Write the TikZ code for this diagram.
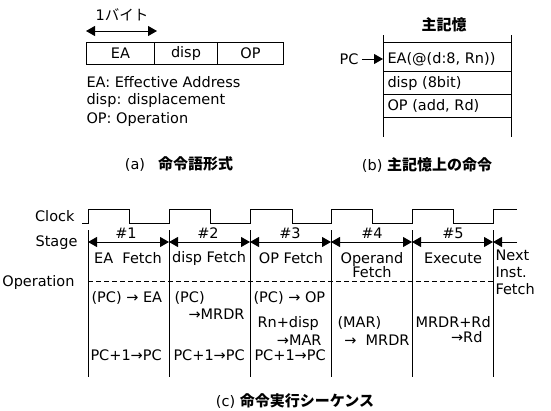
\documentclass[tikz,border=0pt]{standalone}
\usepackage{fontspec}
\setmainfont{DejaVu Sans}
\newfontfamily\jp{Noto Sans CJK JP}
\usetikzlibrary{arrows.meta}
\begin{document}
\begin{tikzpicture}[x=1pt,y=-1pt,
  font=\fontsize{14.5}{17}\selectfont,
  line width=1pt,
  tri/.tip={Triangle[length=9pt,width=10pt]},
  onetip/.style={-tri},
  twotip/.style={tri-tri},
  cell/.style={draw, minimum height=22pt, anchor=north west, inner sep=0pt},
  txt/.style={inner sep=0pt},
  lw/.style={txt, anchor=west},
  le/.style={txt, anchor=east},
  jpb/.style={font=\fontsize{15}{17}\jp\bfseries},
  grid/.style={line width=0.8pt}
]
\useasboundingbox (0,0) rectangle (551,410);

% ---------- (a) instruction word format
\node[cell, minimum width=68pt] (ea) at (86,42) {EA};
\node[cell, minimum width=63pt] (disp) at (154,42) {disp};
\node[cell, minimum width=66pt] (op) at (217,42) {OP};
\coordinate (b1) at (86,31);
\coordinate (b2) at (157,31);
\draw[twotip] (b1) -- (b2);
\node[txt] (byte) at (122,15) {1\jp バイト};
\node[lw] (l1) at (86,82) {EA: Effective Address};
\node[lw] (l2) at (86,100) {disp: displacement};
\node[lw] (l3) at (86,119) {OP: Operation};
\node[txt] (capa) at (179,164) {(a)\hspace{0.9em}{\fontsize{15}{17}\jp\bfseries 命令語形式}};

% ---------- (b) instruction in main memory
\node[txt, jpb] (mem) at (444,25) {主記憶};
\coordinate (mtl) at (383,35);
\coordinate (mbl) at (383,137);
\coordinate (mtr) at (511,35);
\coordinate (mbr) at (511,137);
\draw[grid] (mtl) -- (mbl);
\draw[grid] (mtr) -- (mbr);
\foreach \yy in {42,71,94,117} \draw[grid] (383,\yy) -- (511,\yy);
\node[lw] (m1) at (387,59) {EA(@(d:8, Rn))};
\node[lw] (m2) at (387,83) {disp (8bit)};
\node[lw] (m3) at (387,106) {OP (add, Rd)};
\node[txt] (pc) at (349,59) {PC};
\coordinate (pcend) at (383,59);
\draw[onetip] (pc.east) ++(3,0) -- (pcend);
\node[txt] (capb) at (427,165) {(b) {\fontsize{15}{17}\jp\bfseries 主記憶上の命令}};

% ---------- (c) execution sequence
\node[le] (clk) at (75,216) {Clock};
\node[le] (stg) at (78,243) {Stage};
\node[le] (opl) at (75,282) {Operation};

\coordinate (c0) at (82,223);
\draw (c0) -- (88,223) -- (88,209) -- (129,209) -- (129,223) -- (169,223) -- (169,209)
  -- (210,209) -- (210,223) -- (250,223) -- (250,209) -- (292,209) -- (292,223)
  -- (331,223) -- (331,209) -- (372,209) -- (372,223) -- (412,223) -- (412,209)
  -- (453,209) -- (453,223) -- (493,223) -- (493,209) -- (517,209);

\foreach \i/\xx in {1/88,2/169,3/250,4/331,5/412,6/493} {
  \coordinate (t\i) at (\xx,230);
  \coordinate (b\i) at (\xx,377);
  \coordinate (s\i) at (\xx,242);
  \draw[grid] (t\i) -- (b\i);
}
\coordinate (send) at (517,242);
\draw[twotip] (s1) -- (s2);
\draw[twotip] (s2) -- (s3);
\draw[twotip] (s3) -- (s4);
\draw[twotip] (s4) -- (s5);
\draw[twotip] (s5) -- (s6);
\draw[onetip] (send) -- (s6);

\node[txt] (n1) at (126,233) {\#1};
\node[txt] (n2) at (208,233) {\#2};
\node[txt] (n3) at (290,233) {\#3};
\node[txt] (n4) at (372,233) {\#4};
\node[txt] (n5) at (453,233) {\#5};

\node[txt] (st1) at (128,258) {EA\ \ Fetch};
\node[txt] (st2) at (209,258) {disp Fetch};
\node[txt] (st3) at (291,258) {OP Fetch};
\node[txt, align=center] (st4) at (372,265) {Operand\\[-3pt]Fetch};
\node[txt] (st5) at (453,258) {Execute};
\node[txt, anchor=north west, align=left] (st6) at (495,249) {Next\\Inst.\\Fetch};

\coordinate (d1) at (88,281);
\coordinate (d2) at (493,281);
\draw[grid, dash pattern=on 5pt off 3pt] (d1) -- (d2);

\node[lw] (o11) at (91,298) {(PC) → EA};
\node[lw] (o12) at (90,355) {PC+1→PC};
\node[lw] (o21) at (174,298) {(PC)};
\node[le] (o22) at (245,314) {→MRDR};
\node[lw] (o23) at (173,355) {PC+1→PC};
\node[lw] (o31) at (253,298) {(PC) → OP};
\node[lw] (o32) at (257,323) {Rn+disp};
\node[le] (o33) at (322,340) {→MAR};
\node[lw] (o34) at (254,355) {PC+1→PC};
\node[lw] (o41) at (337,323) {(MAR)};
\node[le] (o42) at (410,340) {→\ \ MRDR};
\node[lw] (o51) at (415,322) {MRDR+Rd};
\node[le] (o52) at (483,337) {→Rd};

\node[txt] (capc) at (295,401) {(c) {\fontsize{15}{17}\jp\bfseries 命令実行シーケンス}};
\end{tikzpicture}
\end{document}
